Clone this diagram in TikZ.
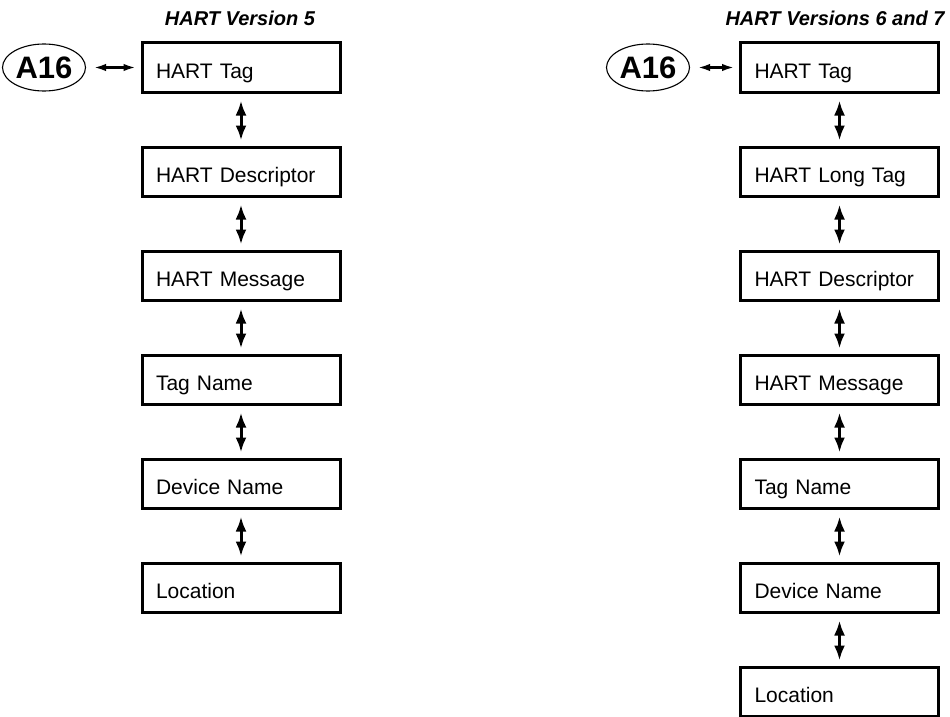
\documentclass[tikz,border=0pt]{standalone}
\usepackage{fontspec}
\setmainfont{Liberation Sans}
\usetikzlibrary{arrows.meta,shapes.geometric}
\begin{document}
\begin{tikzpicture}[x=1pt,y=-1pt,
  box/.style={draw,line width=3pt,rectangle,minimum width=198pt,minimum height=49pt,
    text width=170pt,align=left,inner xsep=14pt,inner ysep=0pt,text height=22pt,text depth=0pt,
    font=\fontsize{21}{24}\selectfont},
  oval/.style={draw,line width=1.1pt,ellipse,minimum width=83pt,minimum height=47pt,inner sep=0pt,
    font=\fontsize{31}{34}\selectfont\bfseries},
  title/.style={font=\fontsize{20}{23}\selectfont\bfseries\itshape},
  varr/.style={line width=3pt,{Latex[length=15pt,width=11pt]}-{Latex[length=15pt,width=11pt]},
    shorten <=7pt,shorten >=5pt},
  harr/.style={line width=2.2pt,{Latex[length=12pt,width=7.5pt]}-{Latex[length=12pt,width=7.5pt]},
    shorten <=8pt,shorten >=5pt}
]
\useasboundingbox (0,0) rectangle (950,717);
% left column
\node[title] (t1) at (240,18) {HART Version 5};
\node[box] (l1) at (241,67.5) {HART Tag};
\node[box] (l2) at (241,171.5) {HART Descriptor};
\node[box] (l3) at (241,275.5) {HART Message};
\node[box] (l4) at (241,379.5) {Tag Name};
\node[box] (l5) at (241,483.5) {Device Name};
\node[box] (l6) at (241,587.5) {Location};
\node[oval] (a1) at (44,67.5) {A16};
\draw[harr] (a1) -- (l1);
\foreach \i/\j in {1/2,2/3,3/4,4/5,5/6} \draw[varr] (l\i) -- (l\j);
% right column
\node[title] (t2) at (835,18) {HART Versions 6 and 7};
\node[box] (r1) at (839.5,67.5) {HART Tag};
\node[box] (r2) at (839.5,171.5) {HART Long Tag};
\node[box] (r3) at (839.5,275.5) {HART Descriptor};
\node[box] (r4) at (839.5,379.5) {HART Message};
\node[box] (r5) at (839.5,483.5) {Tag Name};
\node[box] (r6) at (839.5,587.5) {Device Name};
\node[box] (r7) at (839.5,691.5) {Location};
\node[oval] (a2) at (648,67.5) {A16};
\draw[harr] (a2) -- (r1);
\foreach \i/\j in {1/2,2/3,3/4,4/5,5/6,6/7} \draw[varr] (r\i) -- (r\j);
\end{tikzpicture}
\end{document}
